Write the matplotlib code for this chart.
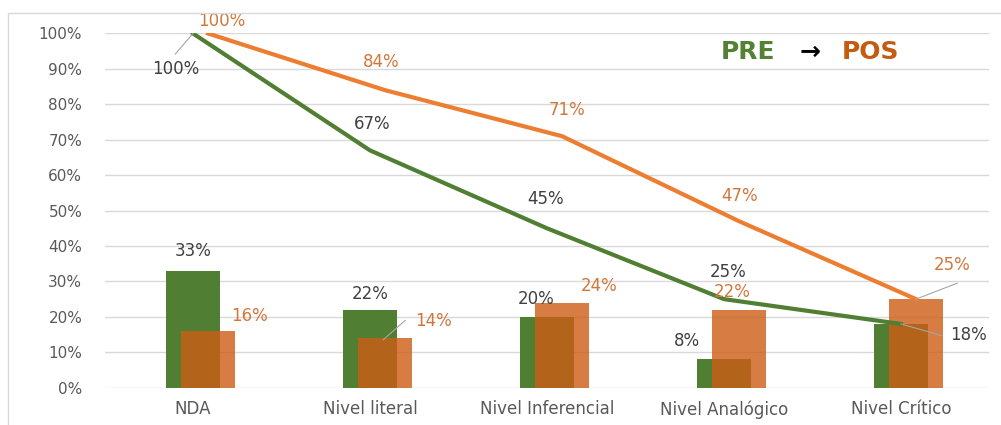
import matplotlib.pyplot as plt
from matplotlib.patches import Rectangle
import numpy as np

categories = ["NDA", "Nivel literal", "Nivel Inferencial", "Nivel Analógico", "Nivel Crítico"]
pre_bars = [0.33, 0.22, 0.20, 0.08, 0.18]
pos_bars = [0.16, 0.14, 0.24, 0.22, 0.25]
pre_line = [1.00, 0.67, 0.45, 0.25, 0.18]
pos_line = [1.00, 0.84, 0.71, 0.47, 0.25]

green = "#507E32"
orange_bar = "#CD5D14"
orange_line = "#ED7D31"
dark = "#404040"
orange_txt = "#D2773C"
gray = "#595959"

fig = plt.figure(figsize=(10.01, 4.25), dpi=100)
fig.patches.append(Rectangle((8 / 1001, -0.1), 1.2, (425 - 12.5) / 425 + 0.1,
                             transform=fig.transFigure, fill=False,
                             edgecolor="#D9D9D9", linewidth=1))
ax = fig.add_axes([0.1044, 0.0878, 0.8841, 0.8334])

x = np.arange(len(categories))
off = 0.085
w = 0.31

ax.bar(x, pre_bars, width=w, color=green, zorder=2)
ax.bar(x + off, pos_bars, width=w, color=orange_bar, alpha=0.8, zorder=3)
ax.plot(x, pre_line, color=green, linewidth=3, zorder=4)
ax.plot(x + off, pos_line, color=orange_line, linewidth=3, zorder=4)

ax.set_xlim(-0.5, 4.5)
ax.set_ylim(0, 1.0)
ax.set_yticks(np.arange(0, 1.01, 0.1))
ax.set_yticklabels([f"{int(round(v * 100))}%" for v in np.arange(0, 1.01, 0.1)])
ax.set_xticks(x)
ax.set_xticklabels(categories)
ax.tick_params(axis="y", length=0, labelsize=11, labelcolor=gray, pad=16)
ax.tick_params(axis="x", length=0, labelsize=12, labelcolor=gray, pad=9)
ax.grid(axis="y", color="#D9D9D9", linewidth=1, zorder=0)
ax.set_axisbelow(True)
for s in ax.spines.values():
    s.set_visible(False)


def lab(xv, yv, txt, col, dx, dy, leader=None):
    # dx, dy in data units relative to the point
    ax.text(xv + dx, yv + dy, txt, color=col, fontsize=12, ha="center", va="center", zorder=6)
    if leader is not None:
        ax.plot([leader[0], leader[2]], [leader[1], leader[3]], color="#A6A6A6",
                linewidth=0.8, zorder=5)


# line labels
lab(x[0], pre_line[0], "100%", dark, -0.096, -0.1, (0.0, 1.0, -0.1, 0.942))
lab(x[0] + off, pos_line[0], "100%", orange_txt, 0.08, 0.036)
lab(x[1] + off, pos_line[1], "84%", orange_txt, -0.02, 0.08)
lab(x[1], pre_line[1], "67%", dark, 0.01, 0.074)
lab(x[2] + off, pos_line[2], "71%", orange_txt, 0.028, 0.074)
lab(x[2], pre_line[2], "45%", dark, -0.01, 0.082)
lab(x[3] + off, pos_line[3], "47%", orange_txt, 0.005, 0.07)
lab(x[3], pre_line[3], "25%", dark, 0.023, 0.078)
lab(x[3] + off, pos_bars[3], "22%", orange_txt, -0.04, 0.051)
lab(x[4] + off, pos_line[4], "25%", orange_txt, 0.203, 0.095, (4.085, 0.25, 4.317, 0.295))
lab(x[4], pre_line[4], "18%", dark, 0.379, -0.03, (4.0, 0.18, 4.23, 0.147))

# bar labels
lab(x[0], pre_bars[0], "33%", dark, 0.0, 0.055)
lab(x[0] + off, pos_bars[0], "16%", orange_txt, 0.237, 0.043)
lab(x[1], pre_bars[1], "22%", dark, 0.0, 0.045)
lab(x[1] + off, pos_bars[1], "14%", orange_txt, 0.276, 0.048, (1.074, 0.135, 1.199, 0.19))
lab(x[2], pre_bars[2], "20%", dark, -0.062, 0.051)
lab(x[2] + off, pos_bars[2], "24%", orange_txt, 0.209, 0.048)
lab(x[3], pre_bars[3], "8%", dark, -0.21, 0.053)

# title
ty = 0.948
ax.text(3.288, ty, "PRE", color="#548235", fontsize=18, fontweight="bold",
        ha="right", va="center")
ax.text(3.486, ty, "→", color="black", fontsize=18, fontweight="bold",
        ha="center", va="center")
ax.text(3.667, ty, "POS", color="#C55A11", fontsize=18, fontweight="bold",
        ha="left", va="center")

fig.savefig("out.png", dpi=100)
